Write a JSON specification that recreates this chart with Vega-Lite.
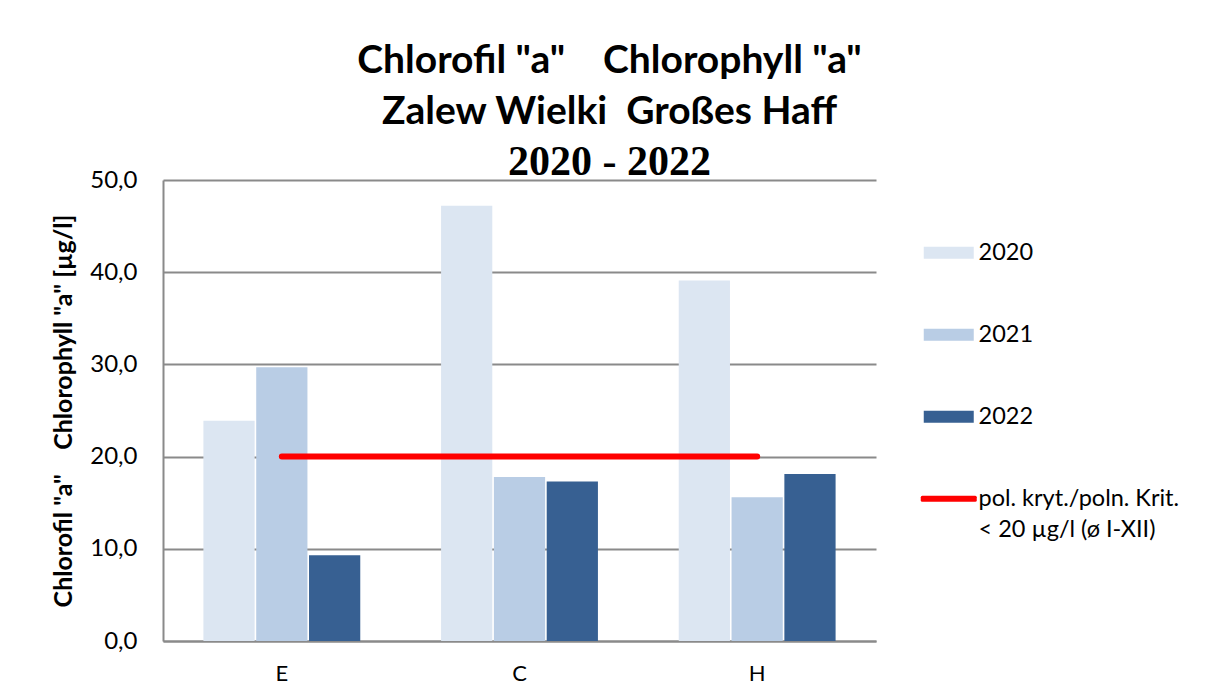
{
  "$schema": "https://vega.github.io/schema/vega-lite/v6.json",
  "width": 713,
  "height": 461,
  "autosize": {"type": "none"},
  "padding": {"left": 163, "top": 180, "right": 337, "bottom": 45},
  "background": "white",
  "config": {
    "font": "Lato",
    "view": {"stroke": null},
    "axis": {"domainColor": "#8a8a8a", "domainWidth": 2, "gridColor": "#8a8a8a", "gridWidth": 2, "labelColor": "black", "titleColor": "black"}
  },
  "title": {
    "text": ["Chlorofil \"a\"\u00a0\u00a0\u00a0 Chlorophyll \"a\"", "Zalew Wielki\u00a0 Großes Haff"],
    "subtitle": "2020 - 2022",
    "font": "Lato",
    "fontSize": 39,
    "fontWeight": "bold",
    "lineHeight": 51,
    "color": "black",
    "subtitleFont": "Liberation Serif",
    "subtitleFontSize": 42,
    "subtitleFontWeight": "bold",
    "subtitleColor": "black",
    "subtitlePadding": 10,
    "anchor": "middle",
    "frame": "group",
    "dx": 90,
    "dy": 3,
    "offset": -12
  },
  "datasets": {
    "bars": [
      {"site": "E", "series": "2020", "value": 23.9},
      {"site": "E", "series": "2021", "value": 29.7},
      {"site": "E", "series": "2022", "value": 9.3},
      {"site": "C", "series": "2020", "value": 47.2},
      {"site": "C", "series": "2021", "value": 17.8},
      {"site": "C", "series": "2022", "value": 17.3},
      {"site": "H", "series": "2020", "value": 39.1},
      {"site": "H", "series": "2021", "value": 15.6},
      {"site": "H", "series": "2022", "value": 18.1}
    ],
    "limit": [
      {"site": "E", "series": "pol. kryt./poln. Krit.|< 20 µg/l (ø I-XII)", "value": 20},
      {"site": "H", "series": "pol. kryt./poln. Krit.|< 20 µg/l (ø I-XII)", "value": 20}
    ]
  },
  "encoding": {
    "x": {
      "field": "site",
      "type": "nominal",
      "sort": ["E", "C", "H"],
      "scale": {"domain": ["E", "C", "H"], "paddingInner": 0.34, "paddingOuter": 0.17},
      "axis": {"title": null, "labelAngle": 0, "labelFontSize": 22, "labelPadding": 22, "ticks": false, "tickSize": 0, "domain": true}
    },
    "y": {
      "field": "value",
      "type": "quantitative",
      "scale": {"domain": [0, 50], "nice": false},
      "axis": {
        "title": "Chlorofil \"a\"\u00a0\u00a0\u00a0 Chlorophyll \"a\" [µg/l]",
        "titleFontSize": 25,
        "titleFontWeight": "bold",
        "titlePadding": 13,
        "values": [0, 10, 20, 30, 40, 50],
        "labelExpr": "replace(format(datum.value, '.1f'), '.', ',')",
        "labelFontSize": 24,
        "labelPadding": 26,
        "ticks": false,
        "tickSize": 0,
        "grid": true
      }
    },
    "color": {
      "field": "series",
      "type": "nominal",
      "scale": {
        "domain": ["2020", "2021", "2022", "pol. kryt./poln. Krit.|< 20 µg/l (ø I-XII)"],
        "range": ["#DCE6F2", "#B9CDE5", "#376092", "#FF0000"]
      },
      "legend": {
        "title": null,
        "orient": "none",
        "legendX": 774,
        "legendY": 61,
        "labelFontSize": 23.5,
        "labelLimit": 400,
        "labelOffset": 18,
        "rowPadding": 57,
        "labelExpr": "split(datum.label, '|')",
        "symbolSize": 2500,
        "encode": {
          "labels": {
            "update": {
              "lineHeight": {"value": 31},
              "baseline": {"signal": "datum.value === '2020' || datum.value === '2021' || datum.value === '2022' ? 'middle' : 'top'"},
              "dy": {"signal": "datum.value === '2020' || datum.value === '2021' || datum.value === '2022' ? 0 : -12"}
            }
          },
          "symbols": {
            "update": {
              "shape": {"signal": "datum.value === '2020' || datum.value === '2021' || datum.value === '2022' ? 'M-1,-0.24L1,-0.24L1,0.24L-1,0.24Z' : 'M-1.06,-0.06L1.06,-0.06L1.06,0.06L-1.06,0.06Z'"},
              "fill": {"scale": "color", "field": "value"},
              "stroke": {"scale": "color", "field": "value"},
              "strokeWidth": {"signal": "datum.value === '2020' || datum.value === '2021' || datum.value === '2022' ? 0 : 3"},
              "strokeJoin": {"value": "round"},
              "opacity": {"value": 1},
              "fillOpacity": {"value": 1}
            }
          }
        }
      }
    }
  },
  "layer": [
    {
      "data": {"name": "bars"},
      "mark": {"type": "bar"},
      "encoding": {
        "xOffset": {"field": "series", "type": "nominal", "scale": {"domain": ["2020", "2021", "2022"], "paddingInner": 0.03, "paddingOuter": 0}}
      }
    },
    {
      "data": {"name": "limit"},
      "mark": {"type": "line", "strokeWidth": 6, "strokeCap": "round"},
      "encoding": {}
    }
  ]
}
